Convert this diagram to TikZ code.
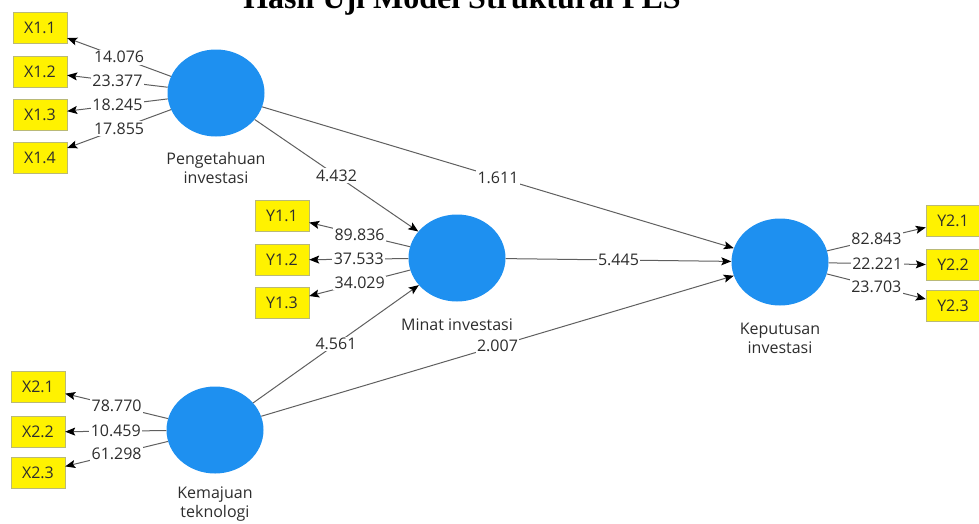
\documentclass[tikz,border=0pt]{standalone}
\usepackage{fontspec}
\setmainfont{Open Sans}
\newfontfamily\titlefont{Liberation Serif}
\usetikzlibrary{arrows.meta,shapes.geometric}
\definecolor{lvblue}{RGB}{30,144,240}
\definecolor{indborder}{RGB}{185,185,120}
\definecolor{lin}{RGB}{95,95,95}
\definecolor{txt}{RGB}{45,45,45}
\begin{document}
\begin{tikzpicture}[x=1pt,y=-1pt,>={Stealth[length=10pt,width=8pt,inset=2pt,black]},
  font=\fontsize{16}{19}\selectfont,
  lv/.style={ellipse,fill=lvblue,minimum width=97pt,minimum height=87pt},
  ind/.style={draw=indborder,fill=yellow,minimum width=54pt,minimum height=31pt,inner sep=0pt,text=txt},
  path/.style={draw=lin,line width=1pt,->},
  val/.style={fill=white,inner sep=1.5pt,text=txt},
  lvname/.style={align=center,text=txt}]
\useasboundingbox(0,0)rectangle(979,523);
\clip(0,0)rectangle(979,523);
\node[anchor=base,font=\titlefont\bfseries\fontsize{32}{36}\selectfont](ttl)at(462,8){Hasil Uji Model Struktural PLS};
\node[lv](PI)at(216,93){};
\node[lv](MI)at(457,258){};
\node[lv](KT)at(215,430){};
\node[lv](KI)at(780,262){};
\node[lvname](PIn)at(216,168){Pengetahuan\\investasi};
\node[lvname](MIn)at(457,325){Minat investasi};
\node[lvname](KTn)at(215,504){Kemajuan\\teknologi};
\node[lvname](KIn)at(780,338){Keputusan\\investasi};
\foreach \n/\y/\v in {1/28/14.076,2/72/23.377,3/114.5/18.245,4/158/17.855}{
  \node[ind](x1\n)at(40,\y){X1.\n};
  \draw[path](PI)--node[val]{\v}(x1\n);}
\foreach \n/\y/\v in {1/216/89.836,2/260/37.533,3/303/34.029}{
  \node[ind](y1\n)at(282,\y){Y1.\n};
  \draw[path](MI)--node[val]{\v}(y1\n);}
\foreach \n/\y/\v in {1/387/78.770,2/432/10.459,3/473/61.298}{
  \node[ind](x2\n)at(38,\y){X2.\n};
  \draw[path](KT)--node[val]{\v}(x2\n);}
\foreach \n/\y/\v in {1/221/82.843,2/265/22.221,3/306/23.703}{
  \node[ind](y2\n)at(953,\y){Y2.\n};
  \draw[path](KI)--node[val]{\v}(y2\n);}
\draw[path](PI)--node[val]{4.432}(MI);
\draw[path](PI)--node[val]{1.611}(KI);
\draw[path](MI)--node[val]{5.445}(KI);
\draw[path](KT)--node[val]{4.561}(MI);
\draw[path](KT)--node[val]{2.007}(KI);
\end{tikzpicture}
\end{document}
